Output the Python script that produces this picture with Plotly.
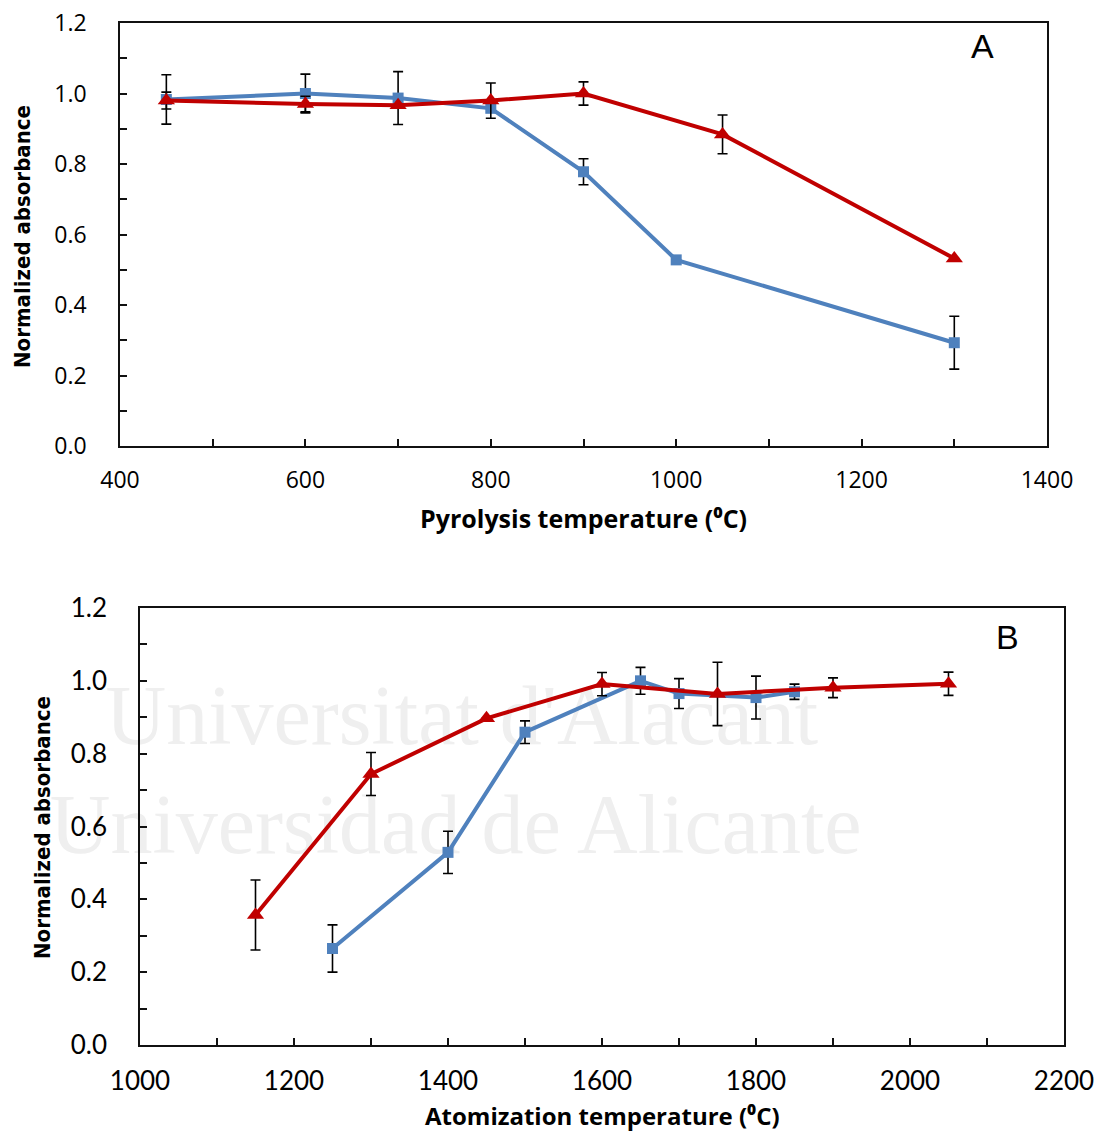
import plotly.graph_objects as go

# ---- Panel A: pyrolysis ----
pyro_blue_x = [450, 600, 700, 800, 900, 1000, 1300]
pyro_blue_y = [0.983, 1.000, 0.987, 0.958, 0.778, 0.528, 0.293]
pyro_blue_err = [0.070, 0.055, 0.075, 0.0, 0.037, 0.0, 0.075]

pyro_red_x = [450, 600, 700, 800, 900, 1050, 1300]
pyro_red_y = [0.980, 0.970, 0.967, 0.980, 1.000, 0.884, 0.532]
pyro_red_err = [0.024, 0.022, 0.0, 0.050, 0.033, 0.055, 0.0]

# ---- Panel B: atomization ----
atom_blue_x = [1250, 1400, 1500, 1650, 1700, 1800, 1850]
atom_blue_y = [0.265, 0.529, 0.859, 1.000, 0.965, 0.954, 0.970]
atom_blue_err = [0.065, 0.058, 0.031, 0.037, 0.041, 0.059, 0.021]

atom_red_x = [1150, 1300, 1450, 1600, 1750, 1900, 2050]
atom_red_y = [0.357, 0.744, 0.897, 0.991, 0.964, 0.981, 0.992]
atom_red_err = [0.096, 0.059, 0.0, 0.032, 0.087, 0.027, 0.032]

watermark_lines = ["Universitat d'Alacant", "Universidad de Alicante"]
watermark_x = [1418, 1410]
watermark_y = [0.885, 0.585]

BLUE = "#4F81BD"
RED = "#C00000"
W, H = 1103, 1133

fig = go.Figure()

# watermark text (drawn first, under the data)
fig.add_trace(go.Scatter(
    x=watermark_x, y=watermark_y, xaxis="x2", yaxis="y2",
    mode="text", text=watermark_lines,
    textfont=dict(family="Liberation Serif", size=84, color="#efefef"),
    cliponaxis=False, hoverinfo="skip", showlegend=False))

def add_series(x, y, err, color, symbol, size, xa, ya):
    fig.add_trace(go.Scatter(
        x=x, y=y, xaxis=xa, yaxis=ya, mode="lines+markers",
        line=dict(color=color, width=4),
        marker=dict(symbol=symbol, size=size, color=color),
        error_y=dict(type="data", array=err, visible=True,
                     color="black", thickness=1.6, width=5),
        showlegend=False, cliponaxis=False))

add_series(pyro_blue_x, pyro_blue_y, pyro_blue_err, BLUE, "square", 11, "x", "y")
add_series(pyro_red_x, pyro_red_y, pyro_red_err, RED, "triangle-up", 15, "x", "y")
add_series(atom_blue_x, atom_blue_y, atom_blue_err, BLUE, "square", 11, "x2", "y2")
add_series(atom_red_x, atom_red_y, atom_red_err, RED, "triangle-up", 15, "x2", "y2")

def px_x(p):
    return p / W

def px_y(p):
    return 1 - p / H

tickfont_top = dict(family="Open Sans", size=23, color="black")
tickfont_bot = dict(family="Lato", size=26, color="black")

axis_common = dict(showline=True, mirror=True, linecolor="#111", linewidth=1.6,
                   ticks="inside", ticklen=7, tickwidth=1.5, tickcolor="#111",
                   showgrid=False, zeroline=False, automargin=False)

fig.update_layout(
    width=W, height=H, margin=dict(l=0, r=0, t=0, b=0, autoexpand=False),
    paper_bgcolor="white", plot_bgcolor="rgba(0,0,0,0)",
    xaxis=dict(domain=[px_x(120), px_x(1047)], anchor="y", range=[400, 1400],
               dtick=200, tick0=400, tickfont=tickfont_top, ticklabelstandoff=13,
               minor=dict(dtick=100, ticks="inside", ticklen=7, tickcolor="#111"),
               **axis_common),
    yaxis=dict(domain=[px_y(446), px_y(23)], anchor="x", range=[0, 1.2],
               dtick=0.2, tickformat=".1f", tickfont=tickfont_top, ticklabelstandoff=27,
               minor=dict(dtick=0.1, ticks="inside", ticklen=7, tickcolor="#111"),
               **axis_common),
    xaxis2=dict(domain=[px_x(140), px_x(1064)], anchor="y2", range=[1000, 2200],
                dtick=200, tick0=1000, tickfont=tickfont_bot, ticklabelstandoff=12,
                minor=dict(dtick=100, ticks="inside", ticklen=7, tickcolor="#111"),
                **axis_common),
    yaxis2=dict(domain=[px_y(1045), px_y(608)], anchor="x2", range=[0, 1.2],
                dtick=0.2, tickformat=".1f", tickfont=tickfont_bot, ticklabelstandoff=26,
                minor=dict(dtick=0.1, ticks="inside", ticklen=7, tickcolor="#111"),
                **axis_common),
)

ytitle_font = dict(family="DejaVu Sans Condensed", size=22, color="black")

annotations = [
    dict(text="<b>Normalized absorbance</b>", x=px_x(22), y=px_y(237), textangle=-90,
         font=ytitle_font),
    dict(text="<b>Normalized absorbance</b>", x=px_x(42), y=px_y(828), textangle=-90,
         font=ytitle_font),
    dict(text="<b>Pyrolysis temperature (⁰C)</b>", x=px_x(583), y=px_y(518),
         font=dict(family="Open Sans", size=25, color="black")),
    dict(text="<b>Atomization temperature (⁰C)</b>", x=px_x(602), y=px_y(1115),
         font=dict(family="Open Sans", size=24, color="black")),
    dict(text="A", x=px_x(982), y=px_y(46), font=dict(family="Liberation Sans", size=34, color="black")),
    dict(text="B", x=px_x(1007), y=px_y(637), font=dict(family="Liberation Sans", size=34, color="black")),
]
for a in annotations:
    a.update(xref="paper", yref="paper", showarrow=False, xanchor="center", yanchor="middle")
fig.update_layout(annotations=annotations)

fig.write_html("out.html")
